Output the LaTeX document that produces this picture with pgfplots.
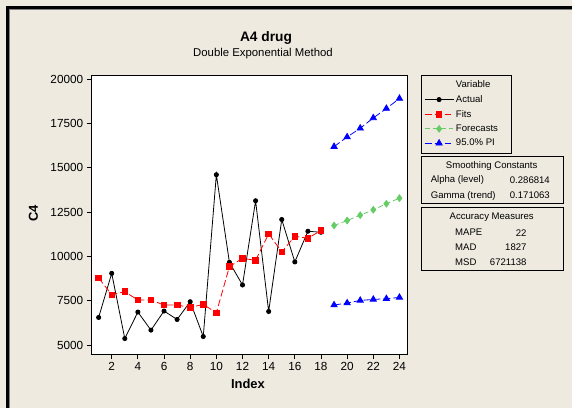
\documentclass[border=0pt]{standalone}
\usepackage{pgfplots}
\pgfplotsset{compat=1.18}
\usepackage{fontspec}
\setmainfont{Liberation Sans}
\definecolor{bg}{RGB}{238,234,224}
\definecolor{fitred}{RGB}{255,0,0}
\definecolor{fcgreen}{RGB}{102,204,102}
\definecolor{piblue}{RGB}{0,0,255}
\begin{document}
\begin{tikzpicture}
\useasboundingbox (0bp,0bp) rectangle (572bp,408bp);
\fill[bg] (0bp,0bp) rectangle (572bp,408bp);
\fill[black] (6bp,0bp) rectangle (9bp,402bp);
\fill[black] (6bp,399bp) rectangle (572bp,402bp);
\draw[gray,line width=1bp] (9.5bp,0bp) -- (9.5bp,398.5bp) -- (572bp,398.5bp);
\node[font=\fontsize{13.8}{16}\selectfont\bfseries] at (266bp,370.3bp) {A4 drug};
\node[font=\fontsize{11.4}{13}\selectfont] at (263bp,354.7bp) {Double Exponential Method};
\begin{axis}[
  at={(91.7bp,54bp)}, anchor=south west, scale only axis,
  width=315.6bp, height=279bp,
  xmin=0.47, xmax=24.6, ymin=4500, ymax=20240,
  axis background/.style={fill=white},
  axis line style={black, line width=0.8pt},
  xtick={2,4,...,24}, ytick={5000,7500,...,20000},
  tick align=outside, tick pos=left, major tick length=5bp,
  tick style={black, line width=0.8pt},
  tick label style={font=\fontsize{11.8}{14}\selectfont},
  /pgf/number format/assume math mode=true,
  /pgf/number format/set thousands separator={},
  scaled y ticks=false,
  xlabel={Index}, ylabel={C4},
  label style={font=\fontsize{13}{15}\selectfont\bfseries},
  x label style={at={(axis description cs:0.495,-0.1075)}, anchor=center},
  y label style={at={(axis description cs:-0.185,0.505)}, anchor=center},
  legend style={at={(1.0434,1)}, anchor=north west, draw=black, fill=bg,
    font=\fontsize{9.6}{11}\selectfont, inner xsep=3bp, inner ysep=3.5bp,
    row sep=2.3bp},
  legend cell align=left,
  legend image code/.code={\draw[mark repeat=2,mark phase=2,#1] plot coordinates {(0bp,0bp) (14.5bp,0bp) (29bp,0bp)};},
]
\addlegendimage{empty legend}
\addlegendentry{Variable}
\addplot[black, line width=0.8pt, mark=*, mark size=2.1bp] coordinates {
(1,6561) (2,9050) (3,5373) (4,6866) (5,5848) (6,6923) (7,6448) (8,7449) (9,5486)
(10,14615) (11,9672) (12,8394) (13,13145) (14,6900) (15,12087) (16,9695) (17,11425) (18,11369)};
\addlegendentry{Actual}
\addplot[fitred, line width=0.8pt, dash pattern=on 7pt off 3pt, mark=square*, mark size=2.8bp, mark options={solid}] coordinates {
(1,8790) (2,7845) (3,8015) (4,7545) (5,7545) (6,7262) (7,7262) (8,7127) (9,7296)
(10,6827) (11,9429) (12,9898) (13,9785) (14,11278) (15,10260) (16,11143) (17,11029) (18,11465)};
\addlegendentry{Fits}
\addplot[fcgreen, line width=0.8pt, dash pattern=on 5pt off 3pt, mark=diamond*, mark size=3.3bp, mark options={solid}] coordinates {
(19,11748) (20,12030) (21,12330) (22,12636) (23,12975) (24,13292)};
\addlegendentry{Forecasts\hspace*{8bp}}
\addplot[piblue, line width=0.8pt, dash pattern=on 7pt off 3pt, mark=triangle*, mark size=3.6bp, mark options={solid}] coordinates {
(19,16199) (20,16742) (21,17234) (22,17817) (23,18348) (24,18914)};
\addlegendentry{95.0\% PI}
\addplot[piblue, line width=0.8pt, dash pattern=on 7pt off 3pt, mark=triangle*, mark size=3.6bp, mark options={solid}, forget plot] coordinates {
(19,7262) (20,7375) (21,7522) (22,7579) (23,7619) (24,7692)};
\end{axis}
\begin{scope}[font=\fontsize{9.6}{11}\selectfont]
\draw[black] (421bp,252bp) rectangle (563bp,205bp);
\node at (491.7bp,242.3bp) {Smoothing Constants};
\node[anchor=west] at (427.3bp,228bp) {Alpha (level)};
\node[anchor=east] at (553.3bp,228bp) {0.286814};
\node[anchor=west] at (427.3bp,212.3bp) {Gamma (trend)};
\node[anchor=east] at (553.3bp,212.3bp) {0.171063};
\draw[black] (421bp,201bp) rectangle (563bp,138bp);
\node at (491.7bp,190.3bp) {Accuracy Measures};
\node[anchor=west] at (451.7bp,175.3bp) {MAPE};
\node[anchor=east] at (530bp,175.3bp) {22};
\node[anchor=west] at (451.7bp,160.3bp) {MAD};
\node[anchor=east] at (530bp,160.3bp) {1827};
\node[anchor=west] at (451.7bp,145.7bp) {MSD};
\node[anchor=east] at (530bp,145.7bp) {6721138};
\end{scope}
\end{tikzpicture}
\end{document}
